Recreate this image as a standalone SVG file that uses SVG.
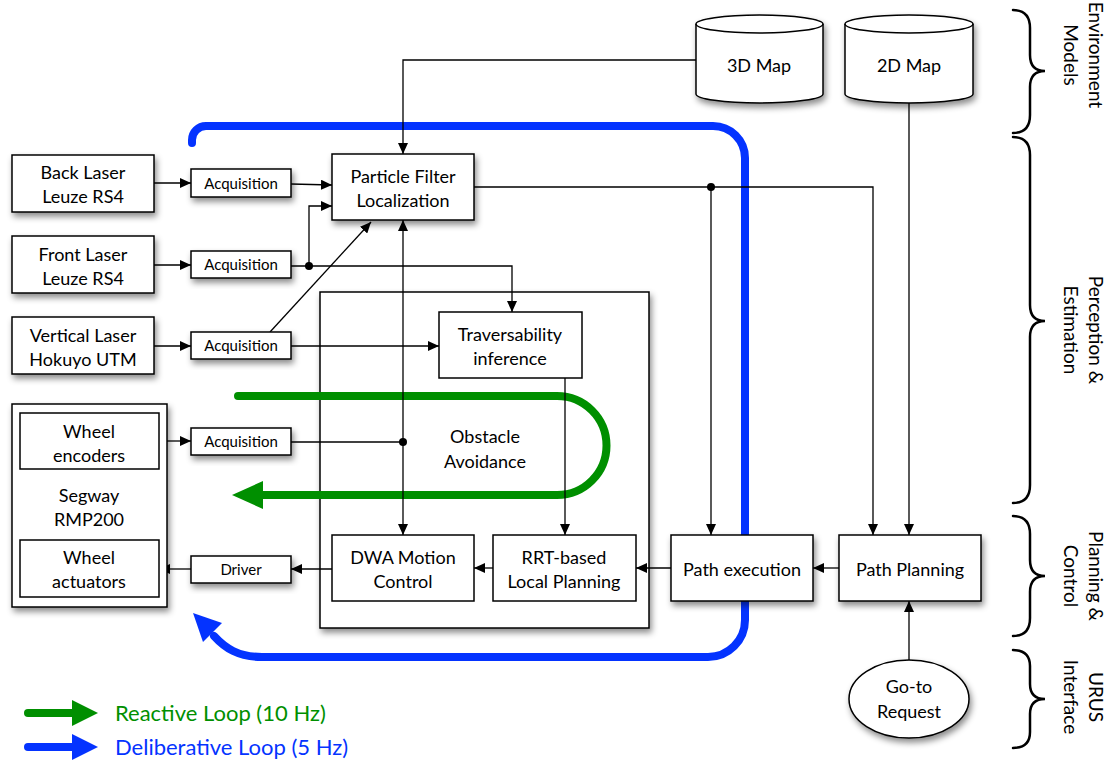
<svg xmlns="http://www.w3.org/2000/svg" width="1112" height="762" viewBox="0 0 1112 762">
<defs>
<filter id="sh" x="-20%" y="-20%" width="150%" height="160%"><feDropShadow dx="2" dy="4" stdDeviation="3" flood-color="#000" flood-opacity="0.45"/></filter>
<marker id="ah" markerUnits="userSpaceOnUse" markerWidth="12" markerHeight="10" viewBox="0 0 12 10" refX="11" refY="5" orient="auto-start-reverse"><path d="M0,0 L11,5 L0,10 z" fill="#000"/></marker>
</defs>
<style>
.box{fill:#fff;stroke:#000;stroke-width:1.5}
.sh{filter:url(#sh)}
.lbl{font-family:Lato,"Liberation Sans",sans-serif;font-size:18px;text-anchor:middle;fill:#000}
.sm{font-size:15px}
.ln{fill:none;stroke:#000;stroke-width:1.3}
.arr{marker-end:url(#ah)}
.dot{fill:#000}
.side{font-family:Lato,"Liberation Sans",sans-serif;font-size:19px;text-anchor:middle;fill:#000}
.brace{fill:none;stroke:#000;stroke-width:2.5;stroke-linecap:round}
.gl{fill:none;stroke:#008F00;stroke-width:8;stroke-linecap:round}
.bl{fill:none;stroke:#0433FF;stroke-width:8;stroke-linecap:round}
.leg{font-family:Lato,"Liberation Sans",sans-serif;font-size:22px}
</style>
<rect width="1112" height="762" fill="#fff"/>

<g id="obstacle-avoidance">
<rect class="box sh" x="320" y="292" width="329" height="336"/>
<text class="lbl" x="485" y="443">Obstacle</text>
<text class="lbl" x="485" y="468">Avoidance</text>
</g>

<g id="loops">
<path class="gl" d="M238,396 L557,396 A49.5,49.5 0 0 1 557,495 L258,495"/>
<polygon fill="#008F00" points="232,495 263,481 263,509"/>
<path class="bl" d="M192,143 L192,140 A14,14 0 0 1 206,126 L713,126 A32,32 0 0 1 745,158 L745,620 A37,37 0 0 1 708,657 L262,657 C238,657 225,648 214,636"/>
<polygon fill="#0433FF" points="193,613 222,623 203,642"/>
</g>

<g id="connectors">
<path class="ln arr" d="M154,183 L191,183"/>
<path class="ln arr" d="M291,184 L332,185"/>
<path class="ln arr" d="M154,265 L191,265"/>
<path class="ln arr" d="M291,266 L512,266 L512,312"/>
<path class="ln arr" d="M309,266 L309,206 L332,206"/>
<circle class="dot" cx="309" cy="266" r="4"/>
<path class="ln arr" d="M154,346 L191,346"/>
<path class="ln arr" d="M291,346 L439,346"/>
<path class="ln arr" d="M270,332 L371,222"/>
<path class="ln arr" d="M159,441 L191,441"/>
<path class="ln" d="M291,442 L403,442"/>
<circle class="dot" cx="403" cy="442" r="4"/>
<path class="ln arr" style="marker-start:url(#ah)" d="M403,220 L403,535"/>
<path class="ln arr" d="M565,378 L565,535"/>
<path class="ln arr" d="M493,568 L474,568"/>
<path class="ln arr" d="M332,569 L291,569"/>
<path class="ln arr" d="M191,569 L159,569"/>
<path class="ln arr" d="M671,568 L636,568"/>
<path class="ln arr" d="M839,568 L813,568"/>
<path class="ln arr" d="M909,660 L909,601"/>
<path class="ln arr" d="M909,103 L909,535"/>
<path class="ln arr" d="M696,60 L403,60 L403,154"/>
<path class="ln arr" d="M474,187 L873,187 L873,535"/>
<path class="ln arr" d="M711,187 L711,535"/>
<circle class="dot" cx="711" cy="187" r="4"/>
</g>

<g id="map-3d">
<path class="box sh" d="M696,24 L696,94 A63.5,9 0 0 0 823,94 L823,24 A63.5,9 0 0 0 696,24 Z"/>
<path class="ln" style="stroke-width:1.5" d="M696,24 A63.5,9 0 0 0 823,24"/>
<text class="lbl" x="759" y="72">3D Map</text>
</g>
<g id="map-2d">
<path class="box sh" d="M845,24 L845,94 A64,9 0 0 0 973,94 L973,24 A64,9 0 0 0 845,24 Z"/>
<path class="ln" style="stroke-width:1.5" d="M845,24 A64,9 0 0 0 973,24"/>
<text class="lbl" x="909" y="72">2D Map</text>
</g>

<g id="back-laser">
<rect class="box sh" x="12" y="155" width="142" height="57"/>
<text class="lbl" x="83" y="179">Back Laser</text>
<text class="lbl" x="83" y="203">Leuze RS4</text>
</g>
<g id="front-laser">
<rect class="box sh" x="12" y="236" width="142" height="57"/>
<text class="lbl" x="83" y="261">Front Laser</text>
<text class="lbl" x="83" y="285">Leuze RS4</text>
</g>
<g id="vertical-laser">
<rect class="box sh" x="12" y="317" width="142" height="57"/>
<text class="lbl" x="83" y="342">Vertical Laser</text>
<text class="lbl" x="83" y="366">Hokuyo UTM</text>
</g>

<g id="acq-back">
<rect class="box sh" x="191" y="169" width="100" height="28"/>
<text class="lbl sm" x="241" y="189">Acquisition</text>
</g>
<g id="acq-front">
<rect class="box sh" x="191" y="251" width="100" height="27"/>
<text class="lbl sm" x="241" y="270">Acquisition</text>
</g>
<g id="acq-vertical">
<rect class="box sh" x="191" y="332" width="100" height="27"/>
<text class="lbl sm" x="241" y="351">Acquisition</text>
</g>
<g id="acq-wheel">
<rect class="box sh" x="191" y="428" width="100" height="27"/>
<text class="lbl sm" x="241" y="447">Acquisition</text>
</g>
<g id="driver">
<rect class="box sh" x="191" y="556" width="100" height="27"/>
<text class="lbl sm" x="241" y="575">Driver</text>
</g>

<g id="particle-filter">
<rect class="box sh" x="332" y="154" width="142" height="66"/>
<text class="lbl" x="403" y="183">Particle Filter</text>
<text class="lbl" x="403" y="207">Localization</text>
</g>

<g id="traversability">
<rect class="box" x="439" y="312" width="143" height="66"/>
<text class="lbl" x="510" y="341">Traversability</text>
<text class="lbl" x="510" y="365">inference</text>
</g>

<g id="segway">
<rect class="box sh" x="12" y="404" width="155" height="203"/>
<text class="lbl" x="89" y="502">Segway</text>
<text class="lbl" x="89" y="526">RMP200</text>
</g>
<g id="wheel-encoders">
<rect class="box" x="20" y="413" width="139" height="56"/>
<text class="lbl" x="89" y="438">Wheel</text>
<text class="lbl" x="89" y="462">encoders</text>
</g>
<g id="wheel-actuators">
<rect class="box" x="20" y="540" width="139" height="57"/>
<text class="lbl" x="89" y="564">Wheel</text>
<text class="lbl" x="89" y="588">actuators</text>
</g>

<g id="dwa">
<rect class="box" x="332" y="535" width="142" height="66"/>
<text class="lbl" x="403" y="564">DWA Motion</text>
<text class="lbl" x="403" y="588">Control</text>
</g>
<g id="rrt">
<rect class="box" x="493" y="535" width="143" height="66"/>
<text class="lbl" x="564" y="564">RRT-based</text>
<text class="lbl" x="564" y="588">Local Planning</text>
</g>

<g id="path-execution">
<rect class="box sh" x="671" y="535" width="142" height="66"/>
<text class="lbl" x="742" y="576">Path execution</text>
</g>
<g id="path-planning">
<rect class="box sh" x="839" y="535" width="142" height="66"/>
<text class="lbl" x="910" y="576">Path Planning</text>
</g>

<g id="goto-request">
<ellipse class="box sh" cx="909" cy="699" rx="60" ry="39"/>
<text class="lbl" x="909" y="693">Go-to</text>
<text class="lbl" x="909" y="718">Request</text>
</g>

<g id="legend">
<path class="gl" d="M28,713 L74,713"/>
<polygon fill="#008F00" points="72,700 98,713 72,726"/>
<text class="leg" x="115" y="721" fill="#008F00">Reactive Loop (10 Hz)</text>
<path class="bl" d="M28,747 L74,747"/>
<polygon fill="#0433FF" points="72,734 98,747 72,760"/>
<text class="leg" x="115" y="755" fill="#0433FF">Deliberative Loop (5 Hz)</text>
</g>

<g id="layers">
<path class="brace" d="M1013,10 Q1030,10 1030,28 L1030,55 Q1030,71 1045,71 Q1030,71 1030,87 L1030,115 Q1030,133 1013,133"/>
<text class="side" transform="translate(1089,55) rotate(90)">Environment</text>
<text class="side" transform="translate(1064,55) rotate(90)">Models</text>
<path class="brace" d="M1013,137 Q1030,137 1030,155 L1030,305 Q1030,321 1045,321 Q1030,321 1030,337 L1030,485 Q1030,503 1013,503"/>
<text class="side" transform="translate(1089,330) rotate(90)">Perception &amp;</text>
<text class="side" transform="translate(1064,330) rotate(90)">Estimation</text>
<path class="brace" d="M1013,516 Q1030,516 1030,534 L1030,560 Q1030,576 1045,576 Q1030,576 1030,592 L1030,618 Q1030,636 1013,636"/>
<text class="side" transform="translate(1089,576) rotate(90)">Planning &amp;</text>
<text class="side" transform="translate(1064,576) rotate(90)">Control</text>
<path class="brace" d="M1013,650 Q1030,650 1030,666 L1030,684 Q1030,699 1045,699 Q1030,699 1030,714 L1030,732 Q1030,748 1013,748"/>
<text class="side" transform="translate(1089,697) rotate(90)">URUS</text>
<text class="side" transform="translate(1064,697) rotate(90)">Interface</text>
</g>
</svg>
